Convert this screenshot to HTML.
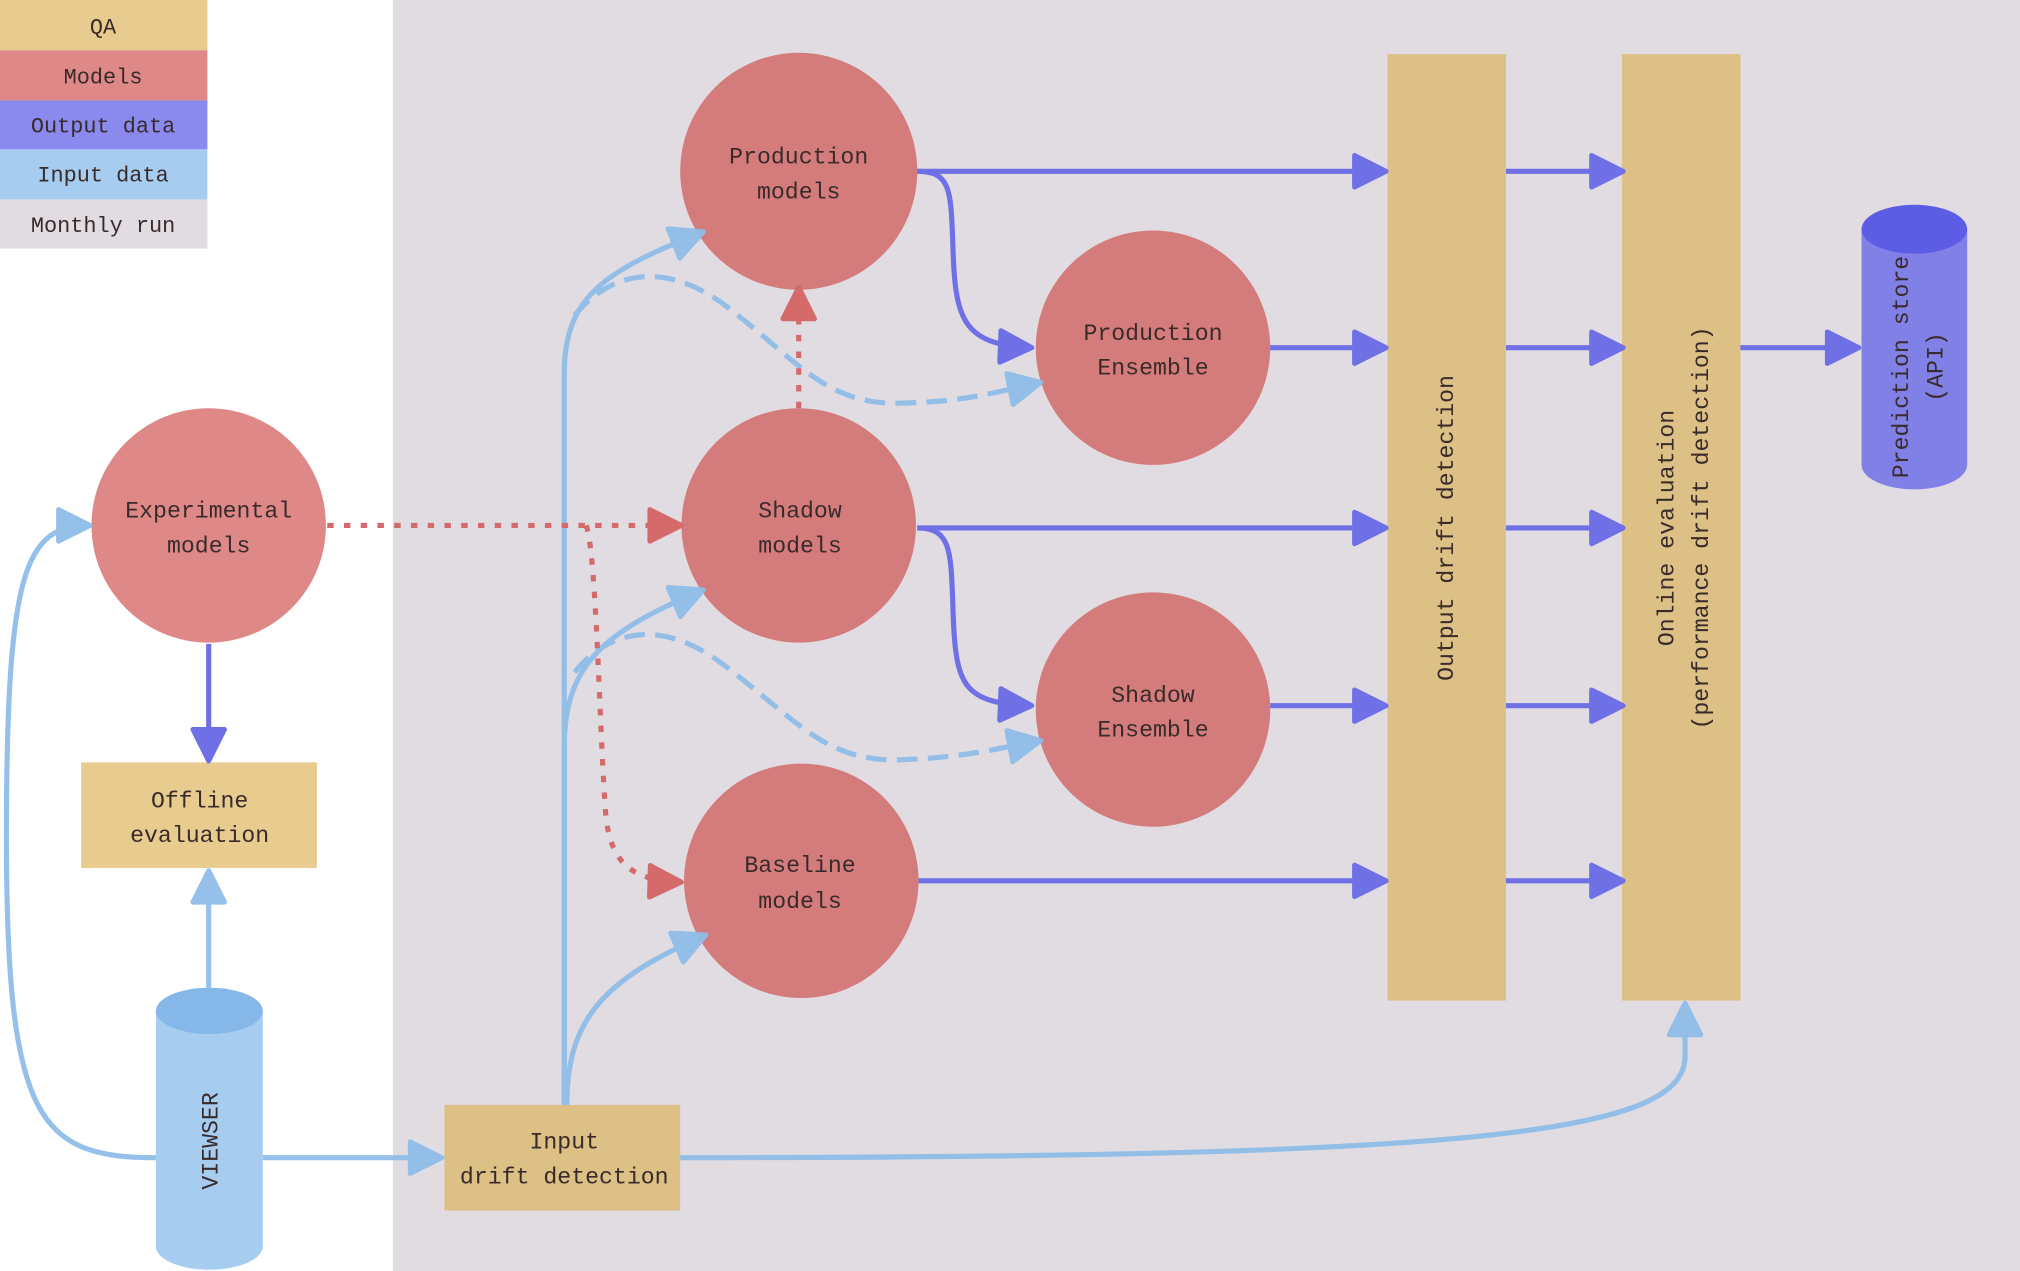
<!DOCTYPE html>
<html><head><meta charset="utf-8"><style>
html,body{margin:0;padding:0;background:#fff;}
svg{display:block;}
text{font-family:"Liberation Mono","DejaVu Sans Mono",monospace;fill:#3a2b2b;}
</style></head><body>
<svg width="2020" height="1271" viewBox="0 0 1568 987" preserveAspectRatio="none" xmlns="http://www.w3.org/2000/svg">
<defs>
<marker id="ao" markerUnits="userSpaceOnUse" markerWidth="34" markerHeight="34" refX="28" refY="15" orient="auto" viewBox="-3 -3 34 36"><path d="M2,2 L28,15 L2,28 z" fill="#7070e6" stroke="#7070e6" stroke-width="4" stroke-linejoin="round"/></marker>
<marker id="ai" markerUnits="userSpaceOnUse" markerWidth="34" markerHeight="34" refX="28" refY="15" orient="auto" viewBox="-3 -3 34 36"><path d="M2,2 L28,15 L2,28 z" fill="#8fbde8" stroke="#8fbde8" stroke-width="4" stroke-linejoin="round"/></marker>
<marker id="ar" markerUnits="userSpaceOnUse" markerWidth="34" markerHeight="34" refX="28" refY="15" orient="auto" viewBox="-3 -3 34 36"><path d="M2,2 L28,15 L2,28 z" fill="#d46a6a" stroke="#d46a6a" stroke-width="4" stroke-linejoin="round"/></marker>
</defs>
<rect x="0" y="0" width="1568" height="987" fill="#fff"/>
<rect x="305" y="0" width="1263" height="987" fill="#e0dce2"/>
<!-- legend -->
<rect x="0" y="0" width="161" height="39" fill="#e8cc8f"/>
<rect x="0" y="39" width="161" height="39" fill="#de8888"/>
<rect x="0" y="78" width="161" height="38" fill="#8a8aee"/>
<rect x="0" y="116" width="161" height="39" fill="#a6cdf0"/>
<rect x="0" y="155" width="161" height="38" fill="#e0dce2"/>
<g font-size="17" text-anchor="middle">
<text x="80" y="26">QA</text>
<text x="80" y="65">Models</text>
<text x="80" y="103">Output data</text>
<text x="80" y="141">Input data</text>
<text x="80" y="180">Monthly run</text>
</g>
<!-- bars -->
<rect x="1077" y="42" width="92" height="735" fill="#ddc085"/>
<rect x="1259" y="42" width="92" height="735" fill="#ddc085"/>
<rect x="345" y="858" width="183" height="82" fill="#ddc085"/>
<rect x="63" y="592" width="183" height="82" fill="#e8cc8f"/>
<!-- cylinders -->
<rect x="121" y="785" width="83" height="185" fill="#a6cdf0"/>
<ellipse cx="162.5" cy="968" rx="41.5" ry="18" fill="#a6cdf0"/>
<ellipse cx="162.5" cy="785" rx="41.5" ry="18" fill="#85b8e8"/>
<rect x="1445" y="178" width="82" height="183" fill="#8080e6"/>
<ellipse cx="1486" cy="361" rx="41" ry="19" fill="#8080e6"/>
<ellipse cx="1486" cy="178" rx="41" ry="19" fill="#5c5ce4"/>
<!-- circles -->
<circle cx="620" cy="133" r="92" fill="#d47b7b"/>
<circle cx="895" cy="270" r="91" fill="#d47b7b"/>
<circle cx="162" cy="408" r="91" fill="#de8888"/>
<circle cx="620" cy="408" r="91" fill="#d47b7b"/>
<circle cx="895" cy="551" r="91" fill="#d47b7b"/>
<circle cx="622" cy="684" r="91" fill="#d47b7b"/>
<!-- output arrows -->
<g fill="none" stroke="#7070e6" stroke-width="4">
<path d="M712,133 L1076,133" marker-end="url(#ao)"/>
<path d="M712,133 C740,133 738,150 740,200 C742,250 750,268 801,270" marker-end="url(#ao)"/>
<path d="M986,270 L1076,270" marker-end="url(#ao)"/>
<path d="M712,410 L1076,410" marker-end="url(#ao)"/>
<path d="M712,410 C740,410 738,430 740,480 C742,535 750,546 801,548" marker-end="url(#ao)"/>
<path d="M986,548 L1076,548" marker-end="url(#ao)"/>
<path d="M713,684 L1076,684" marker-end="url(#ao)"/>
<path d="M1169,133 L1260,133" marker-end="url(#ao)"/>
<path d="M1169,270 L1260,270" marker-end="url(#ao)"/>
<path d="M1169,410 L1260,410" marker-end="url(#ao)"/>
<path d="M1169,548 L1260,548" marker-end="url(#ao)"/>
<path d="M1169,684 L1260,684" marker-end="url(#ao)"/>
<path d="M1351,270 L1443,270" marker-end="url(#ao)"/>
<path d="M162,500 L162,591" marker-end="url(#ao)"/>
</g>
<!-- input arrows -->
<g fill="none" stroke="#8fbde8" stroke-width="4" opacity="0.95">
<path d="M162,767 L162,676" marker-end="url(#ai)"/>
<path d="M204,899 L343,899" marker-end="url(#ai)"/>
<path d="M121,899 C30,899 5,870 5,650 C5,440 20,408 70,408" marker-end="url(#ai)"/>
<path d="M528,899 C1150,899 1308,880 1308,820 L1308,779" marker-end="url(#ai)"/>
<path d="M438,858 L438,290 C438,230 470,210 546,180" marker-end="url(#ai)"/>
<path d="M438,858 L438,580 C438,515 470,490 546,458" marker-end="url(#ai)"/>
<path d="M440,858 C440,790 470,760 548,726" marker-end="url(#ai)"/>
<path d="M446,245 C470,215 510,200 560,235 C620,280 640,315 700,313 C750,312 770,305 808,297" stroke-dasharray="16,8" marker-end="url(#ai)"/>
<path d="M446,522 C470,492 510,478 560,515 C620,560 640,592 700,590 C750,588 770,582 808,575" stroke-dasharray="16,8" marker-end="url(#ai)"/>
</g>
<!-- red dotted -->
<g fill="none" stroke="#d46a6a" stroke-width="4">
<path d="M254,408 L529,408" stroke-dasharray="5,8" marker-end="url(#ar)"/>
<path d="M455,408 C463,430 465,560 470,630 C473,670 490,684 529,685" stroke-dasharray="5,8" marker-end="url(#ar)"/>
<path d="M620,317 L620,223" stroke-dasharray="5,8" marker-end="url(#ar)"/>
</g>
<!-- labels -->
<g font-size="18" text-anchor="middle">
<text x="620" y="127">Production</text><text x="620" y="154">models</text>
<text x="895" y="264">Production</text><text x="895" y="291">Ensemble</text>
<text x="162" y="402">Experimental</text><text x="162" y="429">models</text>
<text x="621" y="402">Shadow</text><text x="621" y="429">models</text>
<text x="895" y="545">Shadow</text><text x="895" y="572">Ensemble</text>
<text x="621" y="677">Baseline</text><text x="621" y="705">models</text>
<text x="155" y="627">Offline</text><text x="155" y="654">evaluation</text>
<text x="438" y="892">Input</text><text x="438" y="919">drift detection</text>
<text transform="translate(1128,410) rotate(-90)">Output drift detection</text>
<text transform="translate(1299,410) rotate(-90)">Online evaluation</text>
<text transform="translate(1326,410) rotate(-90)">(performance drift detection)</text>
<text transform="translate(1481,285) rotate(-90)">Prediction store</text>
<text transform="translate(1508,285) rotate(-90)">(API)</text>
<text transform="translate(169,886) rotate(-90)">VIEWSER</text>
</g>
</svg>
</body></html>
